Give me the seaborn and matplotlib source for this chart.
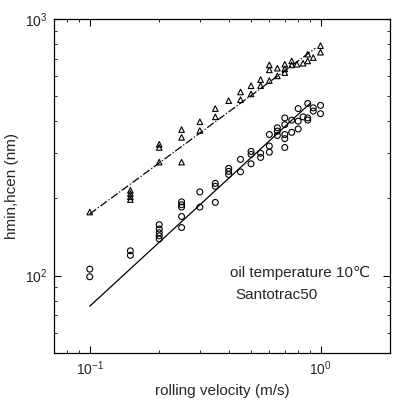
import numpy as np
import pandas as pd
import matplotlib
matplotlib.use("Agg")
import matplotlib.pyplot as plt
import seaborn as sns
from matplotlib.ticker import LogLocator, NullFormatter

# hmin data (triangles)
tri_v = [0.1, 0.15, 0.15, 0.15, 0.15, 0.2, 0.2, 0.2, 0.25, 0.25, 0.25, 0.3, 0.3,
         0.35, 0.35, 0.4, 0.45, 0.45, 0.5, 0.5, 0.55, 0.55, 0.6, 0.6, 0.6,
         0.65, 0.65, 0.7, 0.7, 0.7, 0.75, 0.75, 0.79, 0.84, 0.88, 0.88, 0.93, 1.0, 1.0]
tri_h = [177, 215, 209, 203, 198, 325, 316, 277, 371, 346, 277, 398, 368,
         448, 416, 481, 520, 485, 550, 511, 581, 550, 663, 634, 576,
         644, 601, 667, 640, 619, 687, 663, 667, 673, 730, 687, 708, 788, 743]

# hcen data (circles)
circ_v = [0.1, 0.1, 0.15, 0.15, 0.2, 0.2, 0.2, 0.2, 0.2, 0.25, 0.25, 0.25, 0.25, 0.25,
          0.3, 0.3, 0.35, 0.35, 0.35, 0.4, 0.4, 0.4, 0.45, 0.45, 0.5, 0.5, 0.5,
          0.55, 0.55, 0.6, 0.6, 0.6, 0.65, 0.65, 0.65, 0.7, 0.7, 0.7, 0.7, 0.7,
          0.75, 0.75, 0.8, 0.8, 0.8, 0.84, 0.88, 0.88, 0.88, 0.93, 0.93, 1.0, 1.0]
circ_h = [106, 99, 125, 120, 158, 152, 147, 143, 139, 194, 189, 185, 170, 154,
          212, 185, 229, 223, 193, 262, 255, 248, 284, 254, 305, 297, 273,
          300, 289, 355, 320, 303, 377, 366, 352, 412, 388, 355, 342, 316,
          404, 362, 448, 400, 373, 416, 469, 412, 404, 451, 438, 461, 428]

# fitted lines (end points)
dash_v = [0.1, 0.95]
dash_h = [174, 770]
solid_v = [0.1, 0.9]
solid_h = [76, 469]

sns.set_style("ticks")
plt.rcParams['font.family'] = ['Liberation Sans', 'DejaVu Sans']

fig = plt.figure(figsize=(4.0, 4.07), dpi=100)
ax = fig.add_axes([0.135, 0.133, 0.84, 0.82])

sns.lineplot(x=dash_v, y=dash_h, ax=ax, color='black', lw=0.9, linestyle='-.')
sns.lineplot(x=solid_v, y=solid_h, ax=ax, color='black', lw=0.9)
sns.scatterplot(x=tri_v, y=tri_h, ax=ax, marker='^', s=16, facecolor='none',
                edgecolor='black', linewidth=0.8)
sns.scatterplot(x=circ_v, y=circ_h, ax=ax, marker='o', s=18, facecolor='none',
                edgecolor='black', linewidth=0.8)

ax.set_xscale('log')
ax.set_yscale('log')
ax.set_xlim(0.07, 2.0)
ax.set_ylim(50, 1000)

ax.xaxis.set_major_locator(LogLocator(base=10, numticks=10))
ax.yaxis.set_major_locator(LogLocator(base=10, numticks=10))
ax.xaxis.set_minor_locator(LogLocator(base=10, subs=np.arange(2, 10), numticks=10))
ax.yaxis.set_minor_locator(LogLocator(base=10, subs=np.arange(2, 10), numticks=10))
ax.xaxis.set_minor_formatter(NullFormatter())
ax.yaxis.set_minor_formatter(NullFormatter())
ax.tick_params(which='both', direction='in', top=True, right=True, color='black')
ax.tick_params(which='major', length=5, width=0.8, labelsize=10, pad=5)
ax.tick_params(which='minor', length=2.5, width=0.6)
for sp in ax.spines.values():
    sp.set_linewidth(0.9)
    sp.set_color('black')

ax.set_xlabel("rolling velocity (m/s)", fontsize=11)
ax.set_ylabel("hmin,hcen (nm)", fontsize=11)

ax.text(0.524, 0.24, "oil temperature 10\u2103", transform=ax.transAxes,
        fontsize=11, va='center', ha='left')
ax.text(0.539, 0.172, "Santotrac50", transform=ax.transAxes,
        fontsize=11, va='center', ha='left')

fig.savefig("out.png", dpi=100)
